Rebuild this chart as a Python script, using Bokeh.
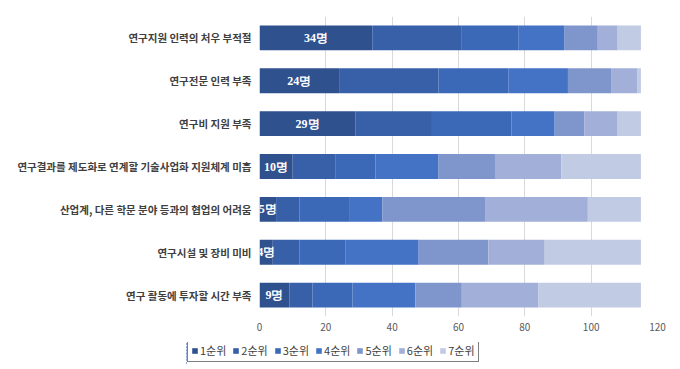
from bokeh.plotting import figure
from bokeh.layouts import column, row, Spacer
from bokeh.models import ColumnDataSource, Legend, LegendItem, LabelSet, FixedTicker
from bokeh.embed import file_html
from bokeh.resources import INLINE

categories = [
    "연구지원 인력의 처우 부적절",
    "연구전문 인력 부족",
    "연구비 지원 부족",
    "연구결과를 제도화로 연계할 기술사업화 지원체계 미흡",
    "산업계, 다른 학문 분야 등과의 협업의 어려움",
    "연구시설 및 장비 미비",
    "연구 활동에 투자할 시간 부족",
]
series = ["1순위", "2순위", "3순위", "4순위", "5순위", "6순위", "7순위"]
rank1 = [34, 24, 29, 10, 5, 4, 9]
rank2 = [27, 30, 23, 13, 7, 8, 7]
rank3 = [17, 21, 24, 12, 15, 14, 12]
rank4 = [14, 18, 13, 19, 10, 22, 19]
rank5 = [10, 13, 9, 17, 31, 21, 14]
rank6 = [6, 8, 10, 20, 31, 17, 23]
rank7 = [7, 1, 7, 24, 16, 29, 31]
x_ticks = [0, 20, 40, 60, 80, 100, 120]

colors = ["#2F528F", "#3760A9", "#3B69B8", "#4472C4", "#7F96CD", "#A2B0D9", "#C2CBE4"]
keys = ["r1", "r2", "r3", "r4", "r5", "r6", "r7"]

data = dict(cat=categories, r1=rank1, r2=rank2, r3=rank3, r4=rank4,
            r5=rank5, r6=rank6, r7=rank7)
data["lx"] = [v / 2 for v in rank1]
data["lbl"] = [f"{v}명" for v in rank1]
source = ColumnDataSource(data)

FONT = "Noto Sans CJK KR"

p = figure(frame_width=398, frame_height=300, y_range=list(reversed(categories)),
           x_range=(0, 120), output_backend="svg", toolbar_location=None,
           min_border_left=259, min_border_right=15, min_border_top=16,
           min_border_bottom=26)

p.hbar_stack(keys, y="cat", height=0.58, color=colors, source=source, line_width=0)

labels = LabelSet(x="lx", y="cat", text="lbl", source=source,
                  text_color="white", text_font=FONT, text_font_style="bold",
                  text_font_size="12px", text_align="center", text_baseline="middle")
p.add_layout(labels)

p.outline_line_color = None
p.ygrid.grid_line_color = None
p.xgrid.grid_line_color = "#D9D9D9"
p.xaxis.ticker = FixedTicker(ticks=x_ticks)
for ax in (p.xaxis[0], p.yaxis[0]):
    ax.axis_line_color = None
    ax.major_tick_line_color = None
    ax.minor_tick_line_color = None
    ax.major_tick_out = 0
    ax.major_tick_in = 0
p.xaxis.major_label_text_color = "#595959"
p.xaxis.major_label_text_font = FONT
p.xaxis.major_label_text_font_size = "10px"
p.xaxis.major_label_standoff = 6
p.yaxis.major_label_text_color = "#404040"
p.yaxis.major_label_text_font = FONT
p.yaxis.major_label_text_font_style = "bold"
p.yaxis.major_label_text_font_size = "10.5px"
p.yaxis.major_label_standoff = 8

# legend strip below the chart
lg = figure(width=320, height=22, y_range=list(reversed(categories)),
            x_range=(1000, 1001), x_axis_type=None, y_axis_type=None,
            output_backend="svg", toolbar_location=None,
            min_border=0, outline_line_color=None)
lg.grid.visible = False
swatches = lg.hbar_stack(keys, y="cat", height=0.58, color=colors, source=source,
                         line_width=0)
items = [LegendItem(label=s, renderers=[r]) for s, r in zip(series, swatches)]
legend = Legend(items=items, orientation="horizontal", location=(1, 2),
                border_line_color="#000000", border_line_width=1,
                label_text_font=FONT, label_text_font_size="11px",
                label_text_color="#404040", glyph_width=7, glyph_height=7,
                label_standoff=2, spacing=6, padding=3, margin=0,
                label_height=12)
lg.add_layout(legend, "center")

layout = column(p, row(Spacer(width=186, height=22), lg), spacing=0)
open("out.html", "w").write(file_html(layout, INLINE))
